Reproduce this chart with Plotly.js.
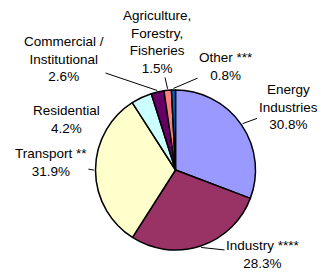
<!DOCTYPE html>
<html><head><meta charset="utf-8">
<script src="https://cdn.plot.ly/plotly-3.0.1.min.js"></script>
<style>html,body{margin:0;padding:0;background:#fff}#c{width:320px;height:272px}</style>
</head><body><div id="c"></div>
<script>
var categories = ["Energy<br>Industries", "Industry ****", "Transport **", "Residential", "Commercial /<br>Institutional", "Agriculture,<br>Forestry,<br>Fisheries", "Other ***"];
var shares = [30.8, 28.3, 31.9, 4.2, 2.6, 1.5, 0.8];
var colors = ["#9999FF", "#993366", "#FFFFCC", "#CCFFFF", "#660066", "#FF8080", "#0066CC"];

// label text centres in pixels (layout only)
var labelX = [288, 263, 51, 66, 64, 157, 226];
var labelY = [107, 254, 162, 119, 59, 42, 66];
var showLine = [true, true, true, false, true, true, true];

var W = 320, H = 272;
var cx = 175.5, cy = 170, R = 80;
var dom = {x: [(cx - R) / W, (cx + R) / W], y: [1 - (cy + R) / H, 1 - (cy - R) / H]};
var font = {family: "Liberation Sans, Arial", size: 13.5, color: "#000"};

var total = shares.reduce(function (a, b) { return a + b; }, 0);
var annotations = [];
var cum = 0;
for (var i = 0; i < shares.length; i++) {
  var mid = (cum + shares[i] / 2) / total * 2 * Math.PI;
  cum += shares[i];
  var tx = cx + R * 1.02 * Math.sin(mid);
  var ty = cy - R * 1.02 * Math.cos(mid);
  var txt = categories[i] + "<br>" + shares[i].toFixed(1) + "%";
  if (showLine[i]) {
    annotations.push({xref: "paper", yref: "paper", x: tx / W, y: 1 - ty / H,
      ax: labelX[i] - tx, ay: labelY[i] - ty, text: txt, showarrow: true,
      arrowhead: 0, arrowwidth: 1, arrowcolor: "#000", standoff: 0, startstandoff: 0,
      font: font, align: "center"});
  } else {
    annotations.push({xref: "paper", yref: "paper", x: labelX[i] / W, y: 1 - labelY[i] / H,
      text: txt, showarrow: false, xanchor: "center", yanchor: "middle",
      font: font, align: "center"});
  }
}

Plotly.newPlot("c", [{
  type: "pie", labels: categories, values: shares, sort: false, direction: "clockwise",
  rotation: 0, textinfo: "none", hoverinfo: "none",
  marker: {colors: colors, line: {color: "#000", width: 1.5}},
  domain: dom
}], {
  width: W, height: H, margin: {l: 0, r: 0, t: 0, b: 0}, showlegend: false,
  paper_bgcolor: "#fff", annotations: annotations
}, {staticPlot: true});
</script></body></html>
